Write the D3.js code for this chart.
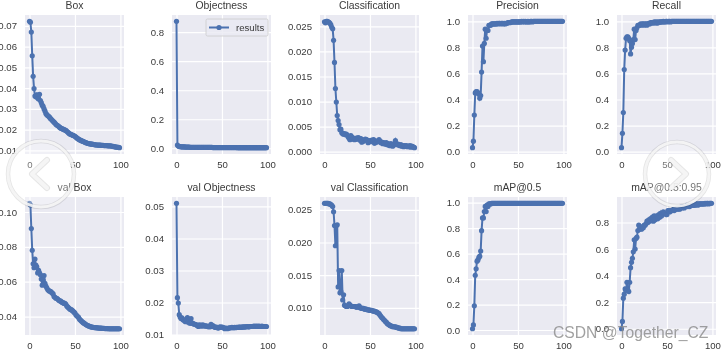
<!DOCTYPE html>
<html>
<head>
<meta charset="utf-8">
<script src="https://cdn.jsdelivr.net/npm/d3@7"></script>
<style>
html, body { margin: 0; padding: 0; background: #fff; overflow: hidden; }
text { font-family: "Liberation Sans", Arial, sans-serif; }
</style>
</head>
<body>
<div id="chart"></div>
<script>
const titles = ["Box", "Objectness", "Classification", "Precision", "Recall",
    "val Box", "val Objectness", "val Classification", "mAP@0.5", "mAP@0.5:0.95"];

const xTicks = [0, 50, 100];

const boxTicks = [0.01, 0.02, 0.03, 0.04, 0.05, 0.06, 0.07];
const objTicks = [0, 0.2, 0.4, 0.6, 0.8];
const clsTicks = [0, 0.005, 0.01, 0.015, 0.02, 0.025];
const unitTicks = [0, 0.2, 0.4, 0.6, 0.8, 1];
const valBoxTicks = [0.04, 0.06, 0.08, 0.1];
const valObjTicks = [0.01, 0.02, 0.03, 0.04, 0.05];
const valClsTicks = [0.01, 0.015, 0.02, 0.025];
const map95Ticks = [0, 0.2, 0.4, 0.6, 0.8];

const box = [
    0.0722, 0.0718, 0.0670, 0.0556, 0.0457, 0.0398, 0.0362, 0.0358, 0.0368, 0.0352,
    0.0348, 0.0370, 0.0340, 0.0330, 0.0318, 0.0312, 0.0300, 0.0290, 0.0278, 0.0272,
    0.0268, 0.0264, 0.0260, 0.0254, 0.0250, 0.0245, 0.0240, 0.0236, 0.0232, 0.0226,
    0.0222, 0.0220, 0.0216, 0.0212, 0.0208, 0.0206, 0.0204, 0.0202, 0.0200, 0.0198,
    0.0196, 0.0192, 0.0188, 0.0184, 0.0180, 0.0178, 0.0176, 0.0174, 0.0172, 0.0170,
    0.0168, 0.0164, 0.0160, 0.0157, 0.0154, 0.0151, 0.0149, 0.0147, 0.0145, 0.0143,
    0.0141, 0.0139, 0.0137, 0.0135, 0.0134, 0.0133, 0.0132, 0.0131, 0.0130, 0.0130,
    0.0129, 0.0128, 0.0127, 0.0127, 0.0126, 0.0126, 0.0125, 0.0125, 0.0125, 0.0124,
    0.0124, 0.0124, 0.0123, 0.0123, 0.0123, 0.0123, 0.0122, 0.0122, 0.0122, 0.0122,
    0.0121, 0.0120, 0.0119, 0.0118, 0.0117, 0.0116, 0.0116, 0.0115, 0.0114, 0.0113
];

const objectness = [
    0.875, 0.022, 0.015, 0.012, 0.011, 0.010, 0.010, 0.009, 0.009, 0.009,
    0.008, 0.008, 0.008, 0.008, 0.008, 0.007, 0.007, 0.007, 0.007, 0.007,
    0.007, 0.007, 0.007, 0.007, 0.006, 0.006, 0.006, 0.006, 0.006, 0.006,
    0.006, 0.006, 0.006, 0.006, 0.006, 0.006, 0.006, 0.006, 0.006, 0.006,
    0.005, 0.005, 0.005, 0.005, 0.005, 0.005, 0.005, 0.005, 0.005, 0.005,
    0.005, 0.005, 0.005, 0.005, 0.005, 0.005, 0.005, 0.005, 0.005, 0.005,
    0.005, 0.005, 0.005, 0.005, 0.005, 0.005, 0.005, 0.004, 0.004, 0.004,
    0.004, 0.004, 0.004, 0.004, 0.004, 0.004, 0.004, 0.004, 0.004, 0.004,
    0.004, 0.004, 0.004, 0.004, 0.004, 0.004, 0.004, 0.004, 0.004, 0.004,
    0.004, 0.004, 0.004, 0.004, 0.004, 0.004, 0.004, 0.004, 0.004, 0.004
];

const classification = [
    0.0259, 0.0257, 0.0260, 0.0260, 0.0259, 0.0258, 0.0256, 0.0253, 0.0248, 0.0245,
    0.0222, 0.0178, 0.0126, 0.0099, 0.0072, 0.0062, 0.0054, 0.0044, 0.0045, 0.0038,
    0.0036, 0.0035, 0.0036, 0.0034, 0.0035, 0.0033, 0.0030, 0.0027, 0.0024, 0.0032,
    0.0029, 0.0025, 0.0027, 0.0024, 0.0025, 0.0027, 0.0025, 0.0028, 0.0027, 0.0023,
    0.0026, 0.0019, 0.0022, 0.0021, 0.0024, 0.0025, 0.0024, 0.0023, 0.0018, 0.0021,
    0.0022, 0.0020, 0.0023, 0.0021, 0.0024, 0.0017, 0.0021, 0.0019, 0.0020, 0.0022,
    0.0024, 0.0021, 0.0018, 0.0019, 0.0016, 0.0018, 0.0017, 0.0015, 0.0018, 0.0014,
    0.0016, 0.0013, 0.0012, 0.0016, 0.0014, 0.0011, 0.0015, 0.0014, 0.0022, 0.0016,
    0.0014, 0.0015, 0.0013, 0.0012, 0.0014, 0.0011, 0.0012, 0.0010, 0.0012, 0.0011,
    0.0012, 0.0010, 0.0011, 0.0010, 0.0012, 0.0009, 0.0011, 0.0010, 0.0009, 0.0008
];

const precision = [
    0.03, 0.08, 0.28, 0.45, 0.46, 0.46, 0.45, 0.44, 0.41, 0.43,
    0.61, 0.81, 0.69, 0.83, 0.94, 0.87, 0.93, 0.93, 0.97, 0.97,
    0.97, 0.98, 0.98, 0.98, 0.98, 0.98, 0.98, 0.985, 0.98, 0.985,
    0.985, 0.98, 0.985, 0.985, 0.98, 0.985, 0.98, 0.985, 0.985, 0.99,
    0.99, 0.99, 0.99, 0.995, 0.995, 0.995, 0.995, 0.995, 0.995, 0.995,
    0.995, 0.995, 0.995, 0.995, 1, 0.995, 1, 0.995, 1, 0.995,
    0.995, 1, 0.995, 0.995, 1, 1, 0.995, 1, 1, 1,
    1, 1, 1, 1, 1, 1, 1, 1, 1, 1,
    1, 1, 1, 1, 1, 1, 1, 1, 1, 1,
    1, 1, 1, 1, 1, 1, 1, 1, 1, 1
];

const recall = [
    0.03, 0.14, 0.30, 0.63, 0.78, 0.87, 0.88, 0.88, 0.87, 0.85,
    0.75, 0.80, 0.83, 0.86, 0.94, 0.86, 0.93, 0.95, 0.97, 0.97,
    0.97, 0.98, 0.97, 0.98, 0.98, 0.97, 0.98, 0.98, 0.97, 0.98,
    0.985, 0.98, 0.99, 0.99, 0.99, 0.985, 0.995, 0.99, 0.995, 0.985,
    0.995, 0.99, 0.995, 0.995, 0.995, 0.995, 1, 0.995, 0.995, 1,
    1, 0.995, 1, 1, 0.995, 1, 1, 1, 1, 1,
    1, 1, 1, 1, 1, 1, 1, 1, 1, 1,
    1, 1, 1, 1, 1, 1, 1, 1, 1, 1,
    1, 1, 1, 1, 1, 1, 1, 1, 1, 1,
    1, 1, 1, 1, 1, 1, 1, 1, 1, 1
];

const valBox = [
    0.1050, 0.1040, 0.0905, 0.0780, 0.0703, 0.0680, 0.0730, 0.0695, 0.0685, 0.0650,
    0.0665, 0.0650, 0.0640, 0.0615, 0.0580, 0.0610, 0.0635, 0.0590, 0.0575, 0.0565,
    0.0555, 0.0550, 0.0545, 0.0545, 0.0540, 0.0535, 0.0530, 0.0515, 0.0510, 0.0505,
    0.0505, 0.0500, 0.0495, 0.0490, 0.0490, 0.0485, 0.0480, 0.0480, 0.0475, 0.0475,
    0.0470, 0.0460, 0.0455, 0.0450, 0.0445, 0.0440, 0.0440, 0.0435, 0.0430, 0.0425,
    0.0420, 0.0410, 0.0405, 0.0400, 0.0395, 0.0385, 0.0380, 0.0375, 0.0370, 0.0365,
    0.0362, 0.0358, 0.0354, 0.0351, 0.0348, 0.0346, 0.0344, 0.0342, 0.0340, 0.0339,
    0.0338, 0.0337, 0.0336, 0.0336, 0.0335, 0.0335, 0.0334, 0.0334, 0.0333, 0.0333,
    0.0332, 0.0332, 0.0332, 0.0331, 0.0331, 0.0331, 0.0331, 0.0330, 0.0330, 0.0330,
    0.0330, 0.0330, 0.0330, 0.0330, 0.0330, 0.0330, 0.0330, 0.0330, 0.0330, 0.0330
];

const valObjectness = [
    0.0510, 0.0215, 0.0198, 0.0162, 0.0155, 0.0150, 0.0152, 0.0146, 0.0145, 0.0142,
    0.0140, 0.0148, 0.0153, 0.0138, 0.0146, 0.0135, 0.0150, 0.0136, 0.0134, 0.0133,
    0.0132, 0.0131, 0.0130, 0.0128, 0.0125, 0.0130, 0.0127, 0.0129, 0.0126, 0.0130,
    0.0128, 0.0127, 0.0126, 0.0127, 0.0125, 0.0124, 0.0126, 0.0124, 0.0132, 0.0126,
    0.0128, 0.0125, 0.0123, 0.0122, 0.0123, 0.0121, 0.0120, 0.0122, 0.0124, 0.0122,
    0.0123, 0.0122, 0.0121, 0.0118, 0.0120, 0.0119, 0.0118, 0.0120, 0.0120, 0.0121,
    0.0121, 0.0122, 0.0121, 0.0121, 0.0122, 0.0121, 0.0122, 0.0122, 0.0122, 0.0123,
    0.0123, 0.0122, 0.0123, 0.0124, 0.0123, 0.0124, 0.0124, 0.0124, 0.0125, 0.0124,
    0.0124, 0.0125, 0.0125, 0.0125, 0.0125, 0.0126, 0.0125, 0.0126, 0.0125, 0.0126,
    0.0125, 0.0126, 0.0125, 0.0125, 0.0126, 0.0125, 0.0125, 0.0125, 0.0125, 0.0125
];

const valClassification = [
    0.0260, 0.0260, 0.0260, 0.0260, 0.0260, 0.0259, 0.0259, 0.0258, 0.0257, 0.0255,
    0.0247, 0.0226, 0.0195, 0.0226, 0.0227, 0.0132, 0.0157, 0.0123, 0.0125, 0.0157,
    0.0112, 0.0120, 0.0104, 0.0103, 0.0102, 0.0102, 0.0103, 0.0106, 0.0104, 0.0103,
    0.0102, 0.0102, 0.0102, 0.0102, 0.0102, 0.0101, 0.0101, 0.0102, 0.0103, 0.0100,
    0.0100, 0.0099, 0.0099, 0.0099, 0.0098, 0.0098, 0.0098, 0.0097, 0.0097, 0.0097,
    0.0096, 0.0096, 0.0096, 0.0095, 0.0095, 0.0095, 0.0094, 0.0094, 0.0093, 0.0092,
    0.0091, 0.0089, 0.0087, 0.0085, 0.0084, 0.0082, 0.0081, 0.0079, 0.0078, 0.0076,
    0.0075, 0.0074, 0.0073, 0.0072, 0.0072, 0.0071, 0.0071, 0.0071, 0.0071, 0.0070,
    0.0070, 0.0069, 0.0069, 0.0069, 0.0068, 0.0068, 0.0068, 0.0068, 0.0068, 0.0068,
    0.0068, 0.0068, 0.0068, 0.0068, 0.0068, 0.0068, 0.0068, 0.0068, 0.0068, 0.0068
];

const map50 = [
    0.01, 0.04, 0.19, 0.43, 0.48, 0.54, 0.55, 0.57, 0.58, 0.62,
    0.78, 0.88, 0.88, 0.93, 0.97, 0.93, 0.98, 0.97, 0.99, 0.99,
    0.99, 0.995, 0.995, 0.995, 0.995, 0.995, 0.995, 0.995, 0.995, 0.995,
    0.995, 0.995, 0.995, 0.995, 0.995, 0.995, 0.995, 0.995, 0.995, 0.995,
    0.995, 0.995, 0.995, 0.995, 0.995, 0.995, 0.995, 0.995, 0.995, 0.995,
    0.995, 0.995, 0.995, 0.995, 0.995, 0.995, 0.995, 0.995, 0.995, 0.995,
    0.995, 0.995, 0.995, 0.995, 0.995, 0.995, 0.995, 0.995, 0.995, 0.995,
    0.995, 0.995, 0.995, 0.995, 0.995, 0.995, 0.995, 0.995, 0.995, 0.995,
    0.995, 0.995, 0.995, 0.995, 0.995, 0.995, 0.995, 0.995, 0.995, 0.995,
    0.995, 0.995, 0.995, 0.995, 0.995, 0.995, 0.995, 0.995, 0.995, 0.995
];

const map95 = [
    0.00, 0.055, 0.23, 0.26, 0.30, 0.29, 0.35, 0.29, 0.28, 0.35,
    0.46, 0.50, 0.53, 0.58, 0.67, 0.60, 0.68, 0.69, 0.74, 0.78,
    0.75, 0.76, 0.75, 0.77, 0.76, 0.78, 0.78, 0.79, 0.81, 0.80,
    0.82, 0.81, 0.83, 0.82, 0.84, 0.81, 0.85, 0.82, 0.84, 0.85,
    0.83, 0.86, 0.84, 0.87, 0.85, 0.87, 0.88, 0.87, 0.87, 0.86,
    0.86, 0.89, 0.89, 0.88, 0.89, 0.89, 0.89, 0.90, 0.89, 0.90,
    0.90, 0.91, 0.90, 0.91, 0.90, 0.91, 0.92, 0.91, 0.92, 0.91,
    0.92, 0.92, 0.93, 0.92, 0.93, 0.92, 0.93, 0.93, 0.93, 0.93,
    0.93, 0.93, 0.94, 0.94, 0.93, 0.94, 0.94, 0.94, 0.94, 0.94,
    0.94, 0.94, 0.945, 0.94, 0.945, 0.945, 0.94, 0.945, 0.945, 0.945
];

const series = [box, objectness, classification, precision, recall,
    valBox, valObjectness, valClassification, map50, map95];
const yTicks = [boxTicks, objTicks, clsTicks, unitTicks, unitTicks,
    valBoxTicks, valObjTicks, valClsTicks, unitTicks, map95Ticks];
const yFormats = [".2f", ".1f", ".3f", ".1f", ".1f", ".2f", ".2f", ".3f", ".1f", ".1f"];

const blue = "#4C72B0";
const ink = "#3a3a3a";
const panelLeft = [25, 172, 320, 468, 617];
const panelTop = [15, 197];
const panelWidth = 99;
const panelHeight = [139, 138];

let svg = d3.select("#chart").append("svg")
    .attr("width", 724)
    .attr("height", 351)
    .style("display", "block");

let plots = svg.append("g").style("filter", "blur(0.45px)");

series.forEach((values, i) => {
    let col = i % 5;
    let row = Math.floor(i / 5);
    let w = panelWidth;
    let h = panelHeight[row];

    // same 5% margins matplotlib would add around the data
    let ext = d3.extent(values);
    let pad = (ext[1] - ext[0]) * 0.05;
    let xScale = d3.scaleLinear().domain([-4.95, 103.95]).range([0, w]);
    let yScale = d3.scaleLinear().domain([ext[0] - pad, ext[1] + pad]).range([h, 0]);

    let g = plots.append("g")
        .attr("transform", "translate(" + panelLeft[col] + "," + panelTop[row] + ")");

    g.append("rect")
        .attr("width", w)
        .attr("height", h)
        .attr("fill", "#EAEAF2");

    let xAxis = d3.axisBottom(xScale).tickValues(xTicks).tickSize(-h).tickPadding(7);
    let yAxis = d3.axisLeft(yScale).tickValues(yTicks[i]).tickSize(-w).tickPadding(8)
        .tickFormat(d3.format(yFormats[i]));

    let xAx = g.append("g").attr("transform", "translate(0," + h + ")").call(xAxis);
    let yAx = g.append("g").call(yAxis);
    [xAx, yAx].forEach(ax => {
        ax.select(".domain").remove();
        ax.selectAll("line").attr("stroke", "#fff").attr("stroke-width", 1.2);
        ax.selectAll("text").attr("fill", ink).attr("font-size", 9.6);
    });

    let line = d3.line()
        .x((d, k) => xScale(k))
        .y(d => yScale(d));

    g.append("path")
        .attr("d", line(values))
        .attr("fill", "none")
        .attr("stroke", blue)
        .attr("stroke-width", 2);

    g.selectAll(".pt")
        .data(values)
        .enter().append("circle")
        .attr("class", "pt")
        .attr("cx", (d, k) => xScale(k))
        .attr("cy", d => yScale(d))
        .attr("r", 2.6)
        .attr("fill", blue);

    g.append("text")
        .attr("x", w / 2)
        .attr("y", -6)
        .attr("text-anchor", "middle")
        .attr("font-size", 10.4)
        .attr("fill", ink)
        .text(titles[i]);
});

// legend in the Objectness panel
let legend = plots.append("g").attr("transform", "translate(206,19)");
legend.append("rect")
    .attr("width", 62)
    .attr("height", 17)
    .attr("rx", 1.5)
    .attr("fill", "#EAEAF2")
    .attr("fill-opacity", 0.8)
    .attr("stroke", "#cccccc")
    .attr("stroke-width", 0.8);
legend.append("line")
    .attr("x1", 3).attr("x2", 23)
    .attr("y1", 8.5).attr("y2", 8.5)
    .attr("stroke", blue)
    .attr("stroke-width", 2);
legend.append("circle")
    .attr("cx", 13).attr("cy", 8.5).attr("r", 2.6)
    .attr("fill", blue);
legend.append("text")
    .attr("x", 30).attr("y", 12)
    .attr("font-size", 9.6)
    .attr("fill", ink)
    .text("results");

// carousel buttons sitting over the screenshot, grey halo so they show on white
let buttons = [
    {cx: 41, cy: 174, r: 33, dir: -1},
    {cx: 677, cy: 174, r: 32, dir: 1}
];
buttons.forEach(b => {
    let tip = b.cx + b.dir * 9;
    let back = b.cx - b.dir * 6;
    let chevron = "M" + back + "," + (b.cy - 14) + "L" + tip + "," + b.cy + "L" + back + "," + (b.cy + 14);

    let btn = svg.append("g").style("filter", "blur(0.4px)");
    btn.append("circle")
        .attr("cx", b.cx).attr("cy", b.cy).attr("r", b.r)
        .attr("fill", "#fff").attr("fill-opacity", 0.3)
        .attr("stroke", "#000").attr("stroke-opacity", 0.1).attr("stroke-width", 4.5);
    btn.append("circle")
        .attr("cx", b.cx).attr("cy", b.cy).attr("r", b.r)
        .attr("fill", "none")
        .attr("stroke", "#f6f6f6").attr("stroke-opacity", 0.9).attr("stroke-width", 2.8);
    btn.append("path")
        .attr("d", chevron)
        .attr("fill", "none")
        .attr("stroke", "#000").attr("stroke-opacity", 0.1)
        .attr("stroke-width", 6)
        .attr("stroke-linecap", "round")
        .attr("stroke-linejoin", "round");
    btn.append("path")
        .attr("d", chevron)
        .attr("fill", "none")
        .attr("stroke", "#f6f6f6").attr("stroke-opacity", 0.9)
        .attr("stroke-width", 4.2)
        .attr("stroke-linecap", "round")
        .attr("stroke-linejoin", "round");
});

svg.append("text")
    .attr("x", 553)
    .attr("y", 338)
    .attr("font-size", 15.7)
    .attr("fill", "#8a8a8a")
    .attr("fill-opacity", 0.8)
    .text("CSDN @Together_CZ");
</script>
</body>
</html>
